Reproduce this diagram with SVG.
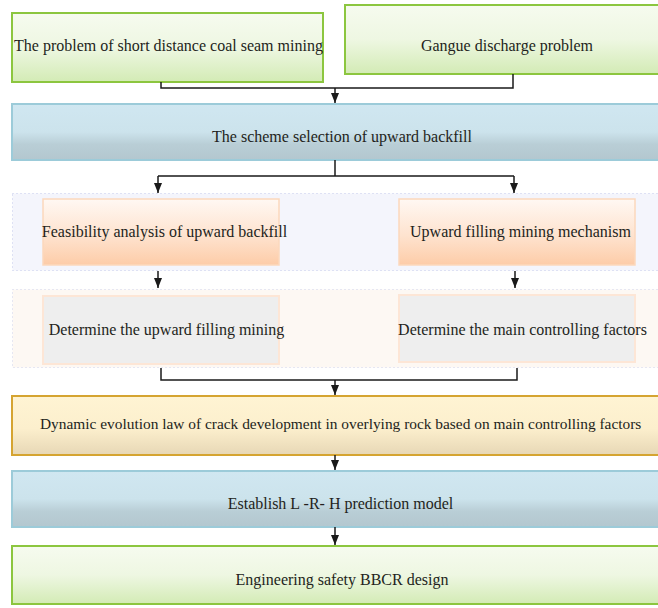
<svg xmlns="http://www.w3.org/2000/svg" width="658" height="608" viewBox="0 0 658 608">
<defs>
<linearGradient id="gGreen" x1="0" y1="0" x2="0" y2="1">
<stop offset="0" stop-color="#f6fbef"/>
<stop offset="0.5" stop-color="#eef7e2"/>
<stop offset="1" stop-color="#d3ebb5"/>
</linearGradient>
<linearGradient id="gBlue" x1="0" y1="0" x2="0" y2="1">
<stop offset="0" stop-color="#d0e7f1"/>
<stop offset="0.5" stop-color="#cce3ec"/>
<stop offset="0.72" stop-color="#b9ced6"/>
<stop offset="1" stop-color="#b3c7cf"/>
</linearGradient>
<linearGradient id="gOrange" x1="0" y1="0" x2="0" y2="1">
<stop offset="0" stop-color="#fff8f3"/>
<stop offset="0.55" stop-color="#fee3cf"/>
<stop offset="1" stop-color="#fdcca8"/>
</linearGradient>
<linearGradient id="gYellow" x1="0" y1="0" x2="0" y2="1">
<stop offset="0" stop-color="#fff4d3"/>
<stop offset="0.55" stop-color="#fcefcd"/>
<stop offset="1" stop-color="#e7d7b5"/>
</linearGradient>
<marker id="arr" markerUnits="userSpaceOnUse" markerWidth="10" markerHeight="10" viewBox="0 0 10 10" refX="10" refY="5" orient="auto">
<path d="M0,1 L10,5 L0,9 z" fill="#1a1a1a"/>
</marker>
</defs>
<style>
text{font-family:"Liberation Serif","Times New Roman",serif;font-size:16px;fill:#231f20;text-anchor:middle}
.green{fill:url(#gGreen);stroke:#8cc63f;stroke-width:2}
.blue{fill:url(#gBlue);stroke:#9ccbd9;stroke-width:2}
.orange{fill:url(#gOrange);stroke:#fbd8bc;stroke-width:1.5}
.grey{fill:#eeeeee;stroke:#fde6d6;stroke-width:2}
.yellow{fill:url(#gYellow);stroke:#d5a431;stroke-width:2}
.cont1{fill:#f4f5fc;stroke:#c3c9ea;stroke-width:1;stroke-dasharray:1 3}
.cont2{fill:#fdf8f3;stroke:#cfd3ea;stroke-width:1;stroke-dasharray:1 3}
.conn{fill:none;stroke:#1a1a1a;stroke-width:1.5}
</style>
<rect width="658" height="608" fill="#ffffff"/>
<g id="container1"><rect class="cont1" x="12.5" y="193.5" width="660" height="77"/></g>
<g id="container2"><rect class="cont2" x="12.5" y="289.5" width="660" height="78"/></g>
<g id="n1"><rect class="green" x="12" y="13" width="311" height="69"/><text x="168.5" y="51">The problem of short distance coal seam mining</text></g>
<g id="n2"><rect class="green" x="345" y="5" width="330" height="69"/><text x="507" y="51">Gangue discharge problem</text></g>
<g id="n3"><rect class="blue" x="12" y="104" width="660" height="56"/><text x="342" y="142">The scheme selection of upward backfill</text></g>
<g id="n4"><rect class="orange" x="43" y="199" width="236" height="66"/><text x="164.5" y="237">Feasibility analysis of upward backfill</text></g>
<g id="n5"><rect class="orange" x="399" y="199" width="236" height="66"/><text x="520.5" y="237">Upward filling mining mechanism</text></g>
<g id="n6"><rect class="grey" x="43" y="296" width="236" height="68"/><text x="166.5" y="335">Determine the upward filling mining</text></g>
<g id="n7"><rect class="grey" x="399" y="295" width="236" height="67"/><text x="522.5" y="335">Determine the main controlling factors</text></g>
<g id="n8"><rect class="yellow" x="12" y="396" width="660" height="59"/><text x="40" y="429" style="text-anchor:start;font-size:15.4px">Dynamic evolution law of crack development in overlying rock based on main controlling factors</text></g>
<g id="n9"><rect class="blue" x="12" y="471" width="660" height="56"/><text x="340.5" y="509">Establish L -R- H prediction model</text></g>
<g id="n10"><rect class="green" x="12" y="546" width="660" height="58"/><text x="342" y="585">Engineering safety BBCR design</text></g>
<g id="connectors">
<path class="conn" d="M161,82 V88 H513 V74"/>
<path class="conn" d="M335,88 V103" marker-end="url(#arr)"/>
<path class="conn" d="M335,160 V176 M158,176 H514"/>
<path class="conn" d="M158,176 V193" marker-end="url(#arr)"/>
<path class="conn" d="M514,176 V193" marker-end="url(#arr)"/>
<path class="conn" d="M158,271 V288" marker-end="url(#arr)"/>
<path class="conn" d="M515,271 V288" marker-end="url(#arr)"/>
<path class="conn" d="M161,368 V380 H517 V368"/>
<path class="conn" d="M335,380 V395" marker-end="url(#arr)"/>
<path class="conn" d="M335,455 V470" marker-end="url(#arr)"/>
<path class="conn" d="M335,527 V545" marker-end="url(#arr)"/>
</g>
</svg>
